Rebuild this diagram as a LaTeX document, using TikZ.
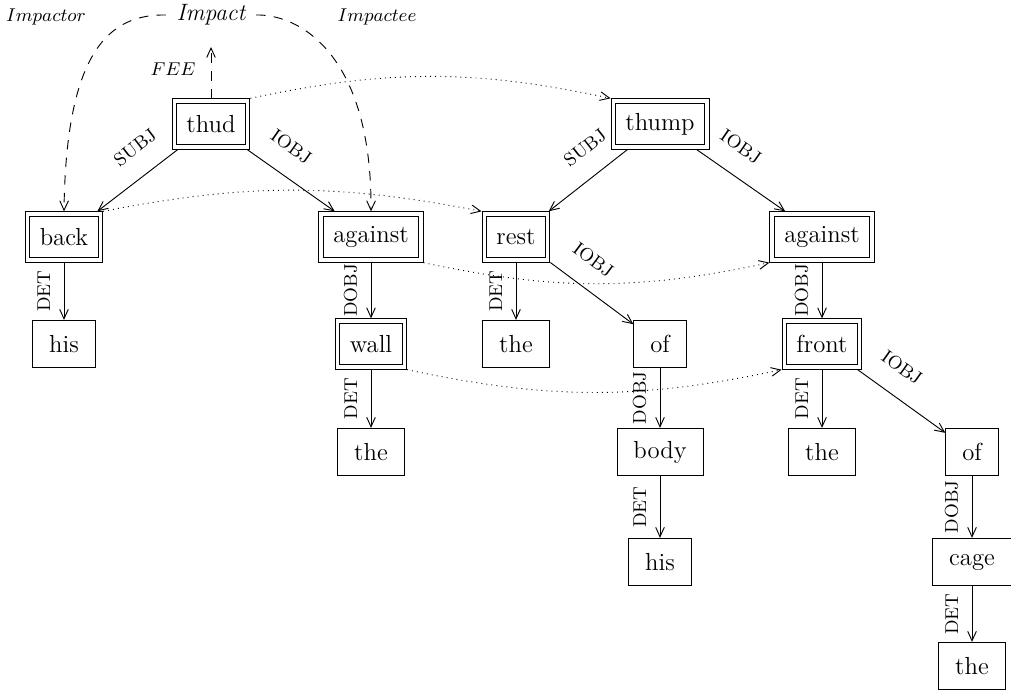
\documentclass[tikz,border=0pt]{standalone}
\usetikzlibrary{arrows.meta}
\begin{document}
\begin{tikzpicture}[x=0.486pt,y=-0.486pt,
  font=\fontsize{12}{14}\selectfont,
  wbox/.style={draw, line width=0.45pt, inner xsep=8pt, inner ysep=2pt, minimum height=23pt},
  dbox/.style={draw, line width=0.45pt, inner xsep=7pt, inner ysep=2pt, minimum height=24.5pt},
  tip/.style={-{Straight Barb[length=4.6pt,width=4.2pt]}},
  dep/.style={tip, line width=0.45pt},
  align/.style={tip, dotted, line width=0.45pt},
  frame/.style={tip, line width=0.45pt, dash pattern=on 4.6pt off 4pt},
  lab/.style={font=\fontsize{9}{10}\selectfont, inner sep=1pt},
  dlab/.style={lab, pos=0.32, sloped, above=9pt},
  vlab/.style={lab, anchor=south, xshift=-5.5pt, rotate=90},
  role/.style={font=\fontsize{9.5}{11}\selectfont, inner sep=1pt}]
\useasboundingbox (0,0) rectangle (1011,690);

% nodes
\node[dbox] (thud)   at (211,124) {thud};
\node[dbox] (back)   at (64,237)  {back};
\node[dbox] (ag1)    at (371,237) {against};
\node[wbox] (his1)   at (64,344)  {his};
\node[dbox] (wall)   at (371,344) {wall};
\node[wbox] (the1)   at (371,452) {the};

\node[dbox] (thump)  at (660,124) {thump};
\node[dbox] (rest)   at (516,237) {rest};
\node[dbox] (ag2)    at (822,237) {against};
\node[wbox] (the2)   at (516,344) {the};
\node[wbox] (of1)    at (660,344) {of};
\node[dbox] (front)  at (822,344) {front};
\node[wbox] (body)   at (660,452) {body};
\node[wbox] (his2)   at (660,562) {his};
\node[wbox] (the3)   at (822,452) {the};
\node[wbox] (of2)    at (972,452) {of};
\node[wbox] (cage)   at (972,562) {cage};
\node[wbox] (the4)   at (972,666) {the};

% inner frames of the double boxes
\foreach \n in {thud,back,ag1,wall,thump,rest,ag2,front}
  \draw[line width=0.45pt] ([shift={(2.3pt,-2.3pt)}]\n.north west) rectangle ([shift={(-2.3pt,2.3pt)}]\n.south east);

% frame
\node[font=\fontsize{11.5}{13}\selectfont\itshape, inner sep=5pt] (impact) at (211,15) {Impact};
\node[role] (impactor) at (46,17) {$Impactor$};
\node[role] (impactee) at (377,17) {$Impactee$};
\node[role, font=\fontsize{9}{10}\selectfont] (fee) at (173,69) {$FEE$};
\coordinate (feetop) at (211,47);

\draw[frame] (impact.west) .. controls (110,14) and (66,50) .. (back.north);
\draw[frame] (impact.east) .. controls (300,14) and (372,55) .. (ag1.north);
\draw[frame] (thud.north) -- (feetop);

% dependencies
\draw[dep] (thud) -- node[dlab] {SUBJ} (back);
\draw[dep] (thud) -- node[dlab] {IOBJ} (ag1);
\draw[dep] (back) -- node[vlab] {DET} (his1);
\draw[dep] (ag1) -- node[vlab] {DOBJ} (wall);
\draw[dep] (wall) -- node[vlab] {DET} (the1);

\draw[dep] (thump) -- node[dlab] {SUBJ} (rest);
\draw[dep] (thump) -- node[dlab] {IOBJ} (ag2);
\draw[dep] (rest) -- node[vlab] {DET} (the2);
\draw[dep] (rest) -- node[dlab] {IOBJ} (of1);
\draw[dep] (of1) -- node[vlab] {DOBJ} (body);
\draw[dep] (body) -- node[vlab] {DET} (his2);
\draw[dep] (ag2) -- node[vlab] {DOBJ} (front);
\draw[dep] (front) -- node[vlab] {DET} (the3);
\draw[dep] (front) -- node[dlab] {IOBJ} (of2);
\draw[dep] (of2) -- node[vlab] {DOBJ} (cage);
\draw[dep] (cage) -- node[vlab] {DET} (the4);

% alignments
\draw[align] (thud.north east) to[bend left=12] (thump.north west);
\draw[align] (back.north east) to[bend left=11] (rest.north west);
\draw[align] (ag1.south east) to[bend right=12] (ag2.south west);
\draw[align] (wall.south east) to[bend right=12] (front.south west);
\end{tikzpicture}
\end{document}
